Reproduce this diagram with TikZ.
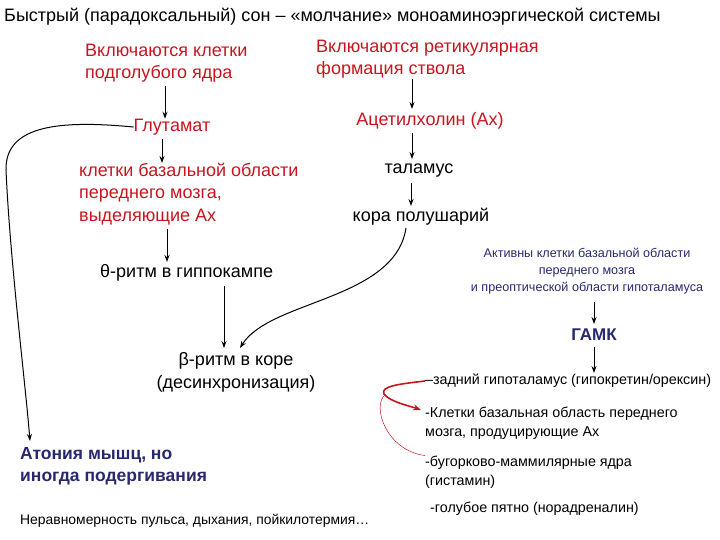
\documentclass[tikz,border=0pt]{standalone}
\usepackage{fontspec}
\setmainfont{Liberation Sans}
\usetikzlibrary{arrows.meta}
\definecolor{myred}{RGB}{200,20,30}
\definecolor{navy}{RGB}{40,40,110}
\tikzset{
 t/.style={inner sep=0pt,anchor=west,align=left,font=\fontsize{18}{22.5}\selectfont},
 tc/.style={inner sep=0pt,align=center,font=\fontsize{18}{23}\selectfont},
 sm/.style={inner sep=0pt,anchor=west,align=left,font=\fontsize{14.3}{19}\selectfont},
 ar/.style={-{Stealth[length=7pt,width=5pt]},line width=1pt},
}
\begin{document}
\begin{tikzpicture}[x=1pt,y=-1pt]
\useasboundingbox (0,0) rectangle (720,540);
\node[t] (title) at (4,17) {Быстрый (парадоксальный) сон – «молчание» моноаминоэргической системы};
\node[t,text=myred] (sub) at (85,63) {Включаются клетки\\подголубого ядра};
\node[t,text=myred] (ret) at (316,59) {Включаются ретикулярная\\формация ствола};
\node[tc,text=myred] (glu) at (172,127) {Глутамат};
\node[t,text=myred] (bas) at (79,194) {клетки базальной области\\переднего мозга,\\выделяющие Ах};
\node[t] (theta) at (100,273) {θ-ритм в гиппокампе};
\node[tc] (beta) at (236,372) {β-ритм в коре\\(десинхронизация)};
\node[tc,text=myred] (ach) at (430,121) {Ацетилхолин (Ах)};
\node[tc] (thal) at (419,171) {таламус};
\node[tc] (kora) at (421,217) {кора полушарий};
\node[tc,text=navy,font=\fontsize{12.6}{17}\selectfont] (act) at (587,271) {Активны клетки базальной области\\переднего мозга\\и преоптической области гипоталамуса};
\node[tc,text=navy,font=\bfseries\fontsize{17}{20}\selectfont] (gaba) at (594,335) {ГАМК};
\node[sm] (l1) at (425,381) {–задний гипоталамус (гипокретин/орексин)};
\node[sm] (l2) at (425,423) {-Клетки базальная область переднего\\мозга, продуцирующие Ах};
\node[sm] (l3) at (425,472) {-бугорково-маммилярные ядра\\(гистамин)};
\node[sm] (l4) at (430,509) {-голубое пятно (норадреналин)};
\node[t,text=navy,font=\bfseries\fontsize{17.5}{22}\selectfont] (aton) at (20,466) {Атония мышц, но\\иногда подергивания};
\node[sm,font=\fontsize{13.9}{16}\selectfont] (neq) at (20,521) {Неравномерность пульса, дыхания, пойкилотермия…};
\coordinate (aend) at (30,441);
\draw[ar] (165,86) -- (glu.north-|165,0);
\draw[ar] (162,139) -- (162,163);
\draw[ar] (167,229) -- (167,262);
\draw[ar] (224,286) -- (224,348);
\draw[ar] (ret.south-|412,0) -- (412,109);
\draw[ar] (412,133) -- (412,159);
\draw[ar] (411,183) -- (411,206);
\draw[ar] (594,302) -- (594,324);
\draw[ar] (594,347) -- (594,373);
\draw[ar] (406,228) .. controls (395,300) and (270,300) .. (240,348);
\draw[ar] (glu.west) .. controls (60,120) and (5,125) .. (6,170) .. controls (10,260) and (25,380) .. (aend);
\draw[-{Stealth[length=8pt,width=6pt]},myred,line width=1.6pt] (l1.west) .. controls (400,384) and (380,386) .. (384,394) .. controls (390,402) and (410,406) .. (421,410);
\draw[myred,line width=0.5pt] (385,395) .. controls (372,405) and (385,450) .. (l3.north west);
\end{tikzpicture}
\end{document}
